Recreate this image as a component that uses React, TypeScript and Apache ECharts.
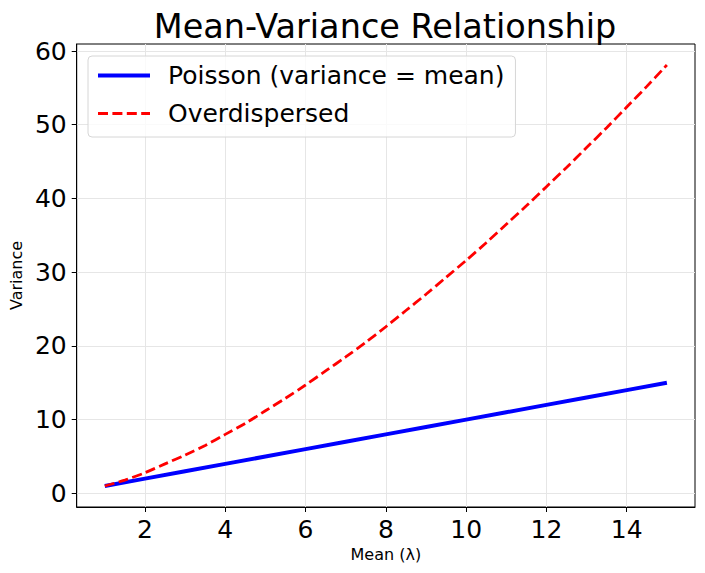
import React, { useEffect, useRef } from "react";
import * as echarts from "echarts";

const TITLE = "Mean-Variance Relationship";
const X_NAME = "Mean (λ)";
const Y_NAME = "Variance";
const SERIES_NAMES = ["Poisson (variance = mean)", "Overdispersed"];

const poissonX = [1, 2, 3, 4, 5, 6, 7, 8, 9, 10, 11, 12, 13, 14, 15];
const poissonY = [1, 2, 3, 4, 5, 6, 7, 8, 9, 10, 11, 12, 13, 14, 15];

const overX = [
  1, 1.5, 2, 2.5, 3, 3.5, 4, 4.5, 5, 5.5, 6, 6.5, 7, 7.5, 8, 8.5, 9, 9.5, 10,
  10.5, 11, 11.5, 12, 12.5, 13, 13.5, 14, 14.5, 15,
];
const overY = [
  1, 1.8, 2.8, 4.0, 5.2, 6.5, 8.0, 9.5, 11.2, 12.9, 14.7, 16.6, 18.5, 20.5,
  22.6, 24.8, 27.0, 29.3, 31.6, 34.0, 36.5, 39.0, 41.6, 44.2, 46.9, 49.6, 52.4,
  55.2, 58.1,
];

const xTicks = [2, 4, 6, 8, 10, 12, 14];
const yTicks = [0, 10, 20, 30, 40, 50, 60];

const FONT = "DejaVu Sans";

export default function App() {
  const ref = useRef<HTMLDivElement>(null);

  useEffect(() => {
    if (!ref.current) return;
    const chart = echarts.init(ref.current, null, { renderer: "svg" });
    const gridColor = "#e6e6e6";
    const blueStyle = { color: "#0000ff", width: 4 };
    const redStyle = { color: "#ff0000", width: 2.8, type: [10, 4.4] };
    chart.setOption({
      animation: false,
      backgroundColor: "#ffffff",
      textStyle: { fontFamily: FONT },
      graphic: [
        {
          type: "text",
          x: 385,
          y: 9,
          style: {
            text: TITLE,
            fontFamily: FONT,
            fontSize: 33.5,
            fill: "#000",
            align: "center",
            verticalAlign: "top",
          },
        },
      ],
      grid: {
        left: 76,
        right: 10,
        top: 44,
        bottom: 66,
        show: true,
        borderColor: "#000",
        borderWidth: 1,
        backgroundColor: "transparent",
      },
      legend: {
        orient: "vertical",
        left: 88,
        top: 56,
        padding: [7, 11, 11, 8],
        itemGap: 13,
        itemWidth: 52,
        itemHeight: 25,
        backgroundColor: "rgba(255,255,255,0.8)",
        borderColor: "#d6d6d6",
        borderWidth: 1,
        borderRadius: 4,
        data: [
          { name: SERIES_NAMES[0], lineStyle: blueStyle },
          { name: SERIES_NAMES[1], lineStyle: redStyle },
        ],
        itemStyle: {
          color: "rgba(0,0,0,0)",
          borderColor: "rgba(0,0,0,0)",
          borderWidth: 0,
        },
        textStyle: {
          fontFamily: FONT,
          fontSize: 25,
          lineHeight: 25,
          color: "#000",
          padding: [0, 0, 0, 13],
        },
      },
      xAxis: {
        type: "value",
        min: 0.3,
        max: 15.7,
        name: X_NAME,
        nameLocation: "middle",
        nameGap: 39,
        nameTextStyle: { fontFamily: FONT, fontSize: 16, color: "#000" },
        axisLine: {
          show: true,
          onZero: false,
          lineStyle: { color: "#000", width: 1 },
        },
        axisTick: {
          show: true,
          length: 5,
          inside: false,
          customValues: xTicks,
          lineStyle: { color: "#000", width: 1 },
        },
        axisLabel: {
          customValues: xTicks,
          fontFamily: FONT,
          fontSize: 25,
          color: "#000",
          margin: 10,
        },
        splitLine: { show: true, lineStyle: { color: gridColor, width: 1 } },
      },
      yAxis: {
        type: "value",
        min: -1.85,
        max: 60.95,
        name: Y_NAME,
        nameLocation: "middle",
        nameGap: 51,
        nameTextStyle: { fontFamily: FONT, fontSize: 16, color: "#000" },
        axisLine: {
          show: true,
          onZero: false,
          lineStyle: { color: "#000", width: 1 },
        },
        axisTick: {
          show: true,
          length: 5,
          inside: false,
          customValues: yTicks,
          lineStyle: { color: "#000", width: 1 },
        },
        axisLabel: {
          customValues: yTicks,
          fontFamily: FONT,
          fontSize: 25,
          color: "#000",
          margin: 10,
        },
        splitLine: { show: true, lineStyle: { color: gridColor, width: 1 } },
      },
      series: [
        {
          name: SERIES_NAMES[0],
          type: "line",
          symbol: "none",
          data: poissonX.map((x, i) => [x, poissonY[i]]),
          lineStyle: blueStyle,
          itemStyle: { color: "#0000ff" },
          z: 2,
        },
        {
          name: SERIES_NAMES[1],
          type: "line",
          symbol: "none",
          smooth: 0.3,
          data: overX.map((x, i) => [x, overY[i]]),
          lineStyle: redStyle,
          itemStyle: { color: "#ff0000" },
          z: 3,
        },
      ],
    });
    return () => chart.dispose();
  }, []);

  return (
    <div
      ref={ref}
      style={{ position: "absolute", left: 0, top: 0, width: 705, height: 573 }}
    />
  );
}
